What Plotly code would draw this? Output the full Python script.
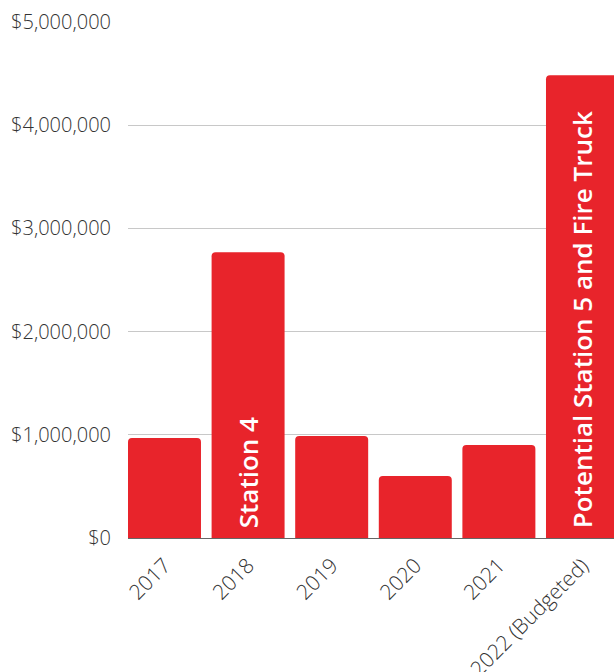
import plotly.graph_objects as go

categories = ["2017", "2018", "2019", "2020", "2021", "2022 (Budgeted)"]
values = [968000, 2770000, 988000, 600000, 900000, 4485000]
bar_labels = ["", "Station 4", "", "", "", "Potential Station 5 and Fire Truck"]
y_tickvals = [0, 1000000, 2000000, 3000000, 4000000, 5000000]
y_ticktext = ["$0", "$1,000,000", "$2,000,000", "$3,000,000", "$4,000,000", "$5,000,000"]

# a little padding before the label text at the bar base
shown_text = [("\u00a0" + t) if t else "" for t in bar_labels]

fig = go.Figure(
    go.Bar(
        x=list(range(len(categories))),
        y=values,
        text=shown_text,
        textposition="inside",
        insidetextanchor="start",
        textangle=-90,
        constraintext="none",
        textfont=dict(color="white", size=26, family="Open Sans", weight=600),
        marker=dict(color="#E8242B", line=dict(width=0)),
        hoverinfo="skip",
    )
)

fig.update_layout(
    width=614,
    height=672,
    margin=dict(l=128, r=0, t=22, b=134),
    paper_bgcolor="white",
    plot_bgcolor="white",
    bargap=0.127,
    barcornerradius=4,
    showlegend=False,
    font=dict(family="Open Sans", size=20, color="#333333"),
)
fig.update_xaxes(
    tickvals=list(range(len(categories))),
    ticktext=categories,
    tickangle=-45,
    range=[-0.4365, 5.377],
    automargin=False,
    showgrid=False,
    showline=True,
    linecolor="#666666",
    linewidth=1,
    ticks="",
    ticklabelstandoff=6,
    tickfont=dict(size=21, color="#333333", family="Open Sans", weight=300),
)
fig.update_yaxes(
    range=[0, 5000000],
    tickvals=y_tickvals,
    ticktext=y_ticktext,
    automargin=False,
    showgrid=True,
    gridcolor="#c8c8c8",
    gridwidth=1,
    zeroline=False,
    ticks="",
    ticklabelstandoff=16,
    tickfont=dict(size=20, color="#333333", family="Open Sans", weight=300),
)

fig.write_html("out.html")
